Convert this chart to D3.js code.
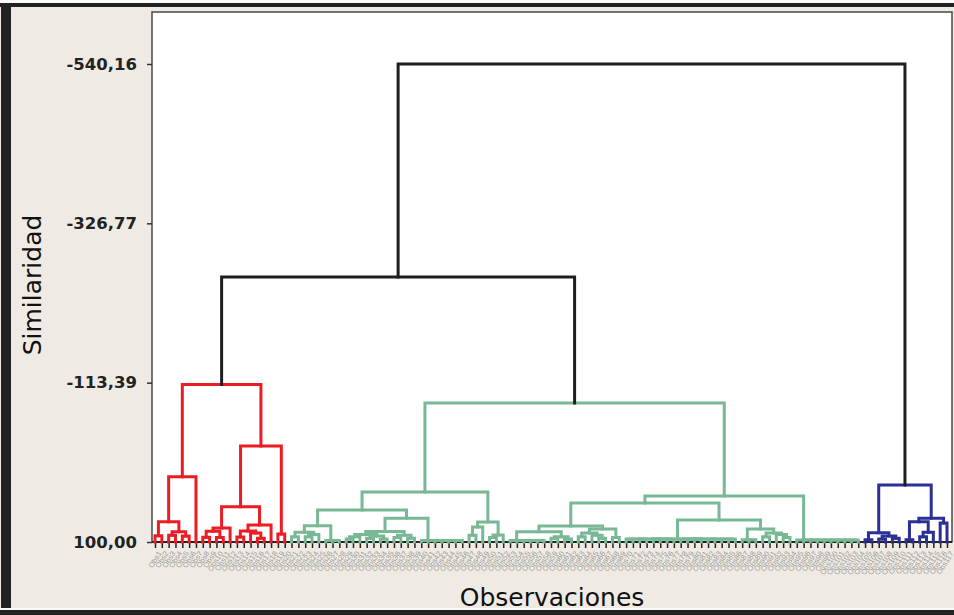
<!DOCTYPE html>
<meta charset="utf-8">
<style>
  body { margin: 0; background: #fff; }
  svg { display: block; font-family: "DejaVu Sans", Verdana, sans-serif; }
</style>
<body>
<script src="https://cdn.jsdelivr.net/npm/d3@7"></script>
<script>

    var width = 954,
        height = 615;

    // eje y (similaridad)
    var yTicks = [100, -113.39, -326.77, -540.16];
    var clusterColors = ["#ec1c24", "#78b894", "#2b2f96"];
    var linkColor = "#1e1e1e";

    // cada nodo: [similaridad, izquierda, derecha]; hojas = orden de la observación
    var redTree = [-111,
        [12.5, [72.8, [91.6, 0, 1], [86.2, [91, 2, 3], [92, 4, 5]]], 6],
        [-28.6,
            [52.7,
                [81.3, [85.5, [93.5, 7, 8], [94, 9, 10]], 11],
                [77.2, [85.3, [93.3, 12, 13], [88, 14, [95, 15, 16]]], 17]],
            [89.3, 18, 19]]];

    var greenLeft = [33,
        [57.1,
            [78.2, [87, [92.9, 20, 21], [90, [93, 22, 23], 24]], [98, 25, [98, 26, 27]]],
            [68.3,
                [86, [90, [93, [96, 28, 29], 30], [92, [95, 31, 32], [96, 33, 34]]],
                     [91, [94, 35, 36], [95, 37, 38]]],
                [98, 39, [98, 40, [98, 41, [98, 42, [98, 43, [98, 44, 45]]]]]]]],
        [73.2, [80, [91, 46, 47], 48], [90.6, [94, 49, 50], 51]]];

    var greenRight = [38.4,
        [47.8,
            [78.6,
                [86.2, [98, 52, [98, 53, [98, 54, [98, 55, [98, 56, 57]]]]],
                       [93, [95, 58, 59], [96, 60, 61]]],
                [82.6, [88, [93, 62, 63], [91, 64, [95, 65, 66]]], [94, 67, 68]]],
            [70.5,
                [96, [96, [96, [96, 69, 70], [96, 71, 72]], [96, [96, 73, 74], [96, 75, 76]]],
                     [96, [96, [96, 77, 78], [96, 79, 80]], [96, [96, 81, 82], [96, 83, [96, 84, 85]]]]],
                [82.6, [97, 86, [97, 87, 88]], [88, [93, 89, 90], [90, 91, [94, 92, 93]]]]]],
        [97.3, 94, [97.3, 95, [97.3, 96, [97.3, 97, [97.3, 98, [97.3, 99,
            [97.3, 100, [97.3, 101, [97.3, 102, 103]]]]]]]]]];

    var greenTree = [-86.1, greenLeft, greenRight];

    var blueTree = [23.7,
        [87.5, [97, 104, 105], [92, [96, 106, 107], [95, 108, 109]]],
        [68.3, [72.8, [97, 110, 111], [87, [93, 112, 113], 114]], [74.6, 115, 116]]];

    var redGreenMerge = -254.9,
        topMerge = -540.16;

    function build(d, k) {
        if (typeof d === "number") return {id: d, cluster: k};
        return {sim: d[0], cluster: k, children: [build(d[1], k), build(d[2], k)]};
    }

    var root = d3.hierarchy({sim: topMerge, cluster: -1, children: [
        {sim: redGreenMerge, cluster: -1, children: [build(redTree, 0), build(greenTree, 1)]},
        build(blueTree, 2)
    ]});

    var leafIds = root.leaves().map(function(d) { return d.data.id; });

    var x = d3.scalePoint().domain(leafIds).range([155, 947]);
    var y = d3.scaleLinear().domain([100, -540.16]).range([542, 64]);

    root.eachAfter(function(n) {
        if (!n.children) { n.px = x(n.data.id); n.py = y(100); }
        else { n.px = d3.mean(n.children, function(c) { return c.px; }); n.py = y(n.data.sim); }
    });

    var svg = d3.select("body").append("svg")
            .attr("width", width)
            .attr("height", height);

    // fondo y marco
    svg.append("rect").attr("width", width).attr("height", height).attr("fill", "#efebe4");
    svg.append("rect").attr("x", 0).attr("y", 0).attr("width", width).attr("height", 3).attr("fill", "#fafafa");
    svg.append("rect").attr("x", 0).attr("y", 3).attr("width", width).attr("height", 4).attr("fill", "#222");
    svg.append("rect").attr("x", 1).attr("y", 3).attr("width", 10).attr("height", height).attr("fill", "#222");
    svg.append("rect").attr("x", 0).attr("y", 608).attr("width", width).attr("height", 2).attr("fill", "#fafafa");
    svg.append("rect").attr("x", 0).attr("y", 610).attr("width", width).attr("height", 5).attr("fill", "#222");

    // area del grafico
    svg.append("rect")
        .attr("x", 152).attr("y", 12)
        .attr("width", 800).attr("height", 530)
        .attr("fill", "#fff")
        .attr("stroke", "#4a4a4a")
        .attr("stroke-width", 1.5);

    // eje x: una marca por observación
    var xAxis = d3.axisBottom(x).tickSize(6).tickPadding(4)
        .tickFormat(function(d) { return "Obs" + (d + 1); });
    var gx = svg.append("g").attr("transform", "translate(0,542)").call(xAxis);
    gx.select(".domain").remove();
    gx.selectAll(".tick line").attr("stroke", "#222").attr("stroke-width", 1.5);
    gx.selectAll(".tick text")
        .attr("fill", "#9a9a9a")
        .attr("font-size", 7.5)
        .attr("text-anchor", "end")
        .attr("dy", 0)
        .attr("transform", "translate(-2,6) rotate(-58)");
    svg.append("line").attr("x1", 152).attr("x2", 952).attr("y1", 542).attr("y2", 542)
        .attr("stroke", "#222").attr("stroke-width", 2);

    // eje y
    var yAxis = d3.axisLeft(y).tickValues(yTicks).tickSize(5).tickPadding(10)
        .tickFormat(function(d) { return d.toFixed(2).replace(".", ","); });
    var gy = svg.append("g").attr("transform", "translate(152,0)").call(yAxis);
    gy.select(".domain").remove();
    gy.selectAll(".tick line").attr("stroke", "#333").attr("stroke-width", 1.5);
    gy.selectAll(".tick text")
        .attr("fill", "#222")
        .attr("font-size", 16.5)
        .attr("font-weight", "bold")
        .attr("font-family", "'DejaVu Sans', Verdana, sans-serif");

    // dendrograma
    svg.append("g")
        .attr("fill", "none")
        .attr("stroke-width", 3)
        .attr("stroke-linejoin", "miter")
        .attr("stroke-linecap", "square")
      .selectAll("path")
      .data(root.descendants().filter(function(n) { return n.children; }).reverse())
      .enter().append("path")
        .attr("stroke", function(n) { return n.data.cluster < 0 ? linkColor : clusterColors[n.data.cluster]; })
        .attr("d", function(n) {
            var a = n.children[0], b = n.children[1];
            return "M" + a.px + "," + a.py + "V" + n.py + "H" + b.px + "V" + b.py;
        });

    // titulos
    svg.append("text")
        .attr("x", 552).attr("y", 606)
        .attr("text-anchor", "middle")
        .attr("font-size", 25)
        .attr("fill", "#111")
        .text("Observaciones");

    svg.append("text")
        .attr("transform", "translate(41,285) rotate(-90)")
        .attr("text-anchor", "middle")
        .attr("font-size", 25)
        .attr("fill", "#111")
        .text("Similaridad");

</script>
